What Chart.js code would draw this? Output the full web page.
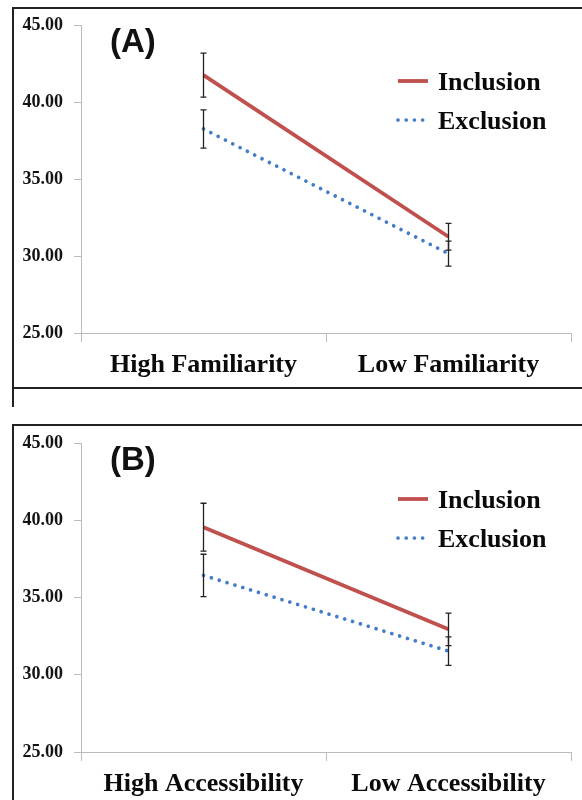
<!DOCTYPE html>
<html>
<head>
<meta charset="utf-8">
<script src="https://cdn.jsdelivr.net/npm/chart.js@4/dist/chart.umd.min.js"></script>
<style>
  body { margin: 0; background: #fff; width: 582px; height: 800px; overflow: hidden; position: relative; }
  canvas { position: absolute; left: 0; }
  #chartA { top: 0; }
  #chartB { top: 395px; }
  .frame { position: absolute; border-color: #222; border-style: solid; border-width: 0; }
  #frameA { left: 12px; top: 7px; width: 620px; height: 378px; border-top-width: 2px; border-left-width: 2px; border-bottom-width: 2px; }
  #frameA2 { left: 12px; top: 387px; width: 0; height: 20px; border-left-width: 2px; }
  #frameB { left: 12px; top: 424px; width: 620px; height: 400px; border-top-width: 2px; border-left-width: 2px; }
  .tag { position: absolute; left: 110px; font: bold 33px "Liberation Sans", Arial, sans-serif; line-height: 1; color: #111; }
</style>
</head>
<body>
<div class="frame" id="frameA"></div>
<div class="frame" id="frameA2"></div>
<div class="frame" id="frameB"></div>
<canvas id="chartA" width="582" height="395"></canvas>
<canvas id="chartB" width="582" height="405"></canvas>
<div class="tag" style="top:24px">(A)</div>
<div class="tag" style="top:442px">(B)</div>
<script>
const categoriesA = ['High Familiarity', 'Low Familiarity'];
const categoriesB = ['High Accessibility', 'Low Accessibility'];
const seriesNames = ['Inclusion', 'Exclusion'];
const yTicks = [25, 30, 35, 40, 45];

// panel A
const inclusionA = [41.75, 31.25];
const inclusionErrA = [1.43, 0.87];
const exclusionA = [38.25, 30.15];
const exclusionErrA = [1.24, 0.81];

// panel B
const inclusionB = [39.55, 32.94];
const inclusionErrB = [1.55, 1.05];
const exclusionB = [36.43, 31.53];
const exclusionErrB = [1.37, 0.92];

Chart.defaults.font.family = '"Liberation Serif", "Times New Roman", serif';
Chart.defaults.color = '#111';

const errorBars = {
  id: 'errorBars',
  afterDatasetsDraw(chart) {
    const { ctx, scales: { x, y } } = chart;
    ctx.save();
    ctx.strokeStyle = '#222';
    ctx.lineWidth = 1.3;
    chart.data.datasets.forEach(ds => {
      ds.data.forEach((v, j) => {
        const e = ds.errors[j];
        const px = x.getPixelForValue(j);
        const top = y.getPixelForValue(v + e);
        const bot = y.getPixelForValue(v - e);
        ctx.beginPath();
        ctx.moveTo(px, top); ctx.lineTo(px, bot);
        ctx.moveTo(px - 3, top); ctx.lineTo(px + 3, top);
        ctx.moveTo(px - 3, bot); ctx.lineTo(px + 3, bot);
        ctx.stroke();
      });
    });
    ctx.restore();
  }
};

const sideLegend = {
  id: 'sideLegend',
  afterDraw(chart) {
    const { ctx, chartArea } = chart;
    const x0 = chartArea.right - 175;
    chart.data.datasets.forEach((ds, i) => {
      const yy = chartArea.top + 56 + i * 39;
      ctx.save();
      ctx.strokeStyle = ds.borderColor;
      ctx.lineWidth = ds.borderWidth;
      ctx.setLineDash(ds.borderDash || []);
      ctx.lineCap = ds.borderCapStyle || 'butt';
      ctx.beginPath();
      ctx.moveTo(x0 + 2, yy);
      ctx.lineTo(x0 + 32, yy);
      ctx.stroke();
      ctx.setLineDash([]);
      ctx.fillStyle = '#0a0a0a';
      ctx.font = 'bold 26px "Liberation Serif"';
      ctx.textBaseline = 'alphabetic';
      ctx.fillText(ds.label, x0 + 42, yy + 8.6);
      ctx.restore();
    });
  }
};

function makeChart(id, labels, inc, incErr, exc, excErr, padTop, axisHeight) {
  new Chart(document.getElementById(id), {
    type: 'line',
    data: {
      labels: labels,
      datasets: [{
        label: seriesNames[0],
        data: inc,
        errors: incErr,
        borderColor: '#C0504D',
        borderWidth: 3.8,
        pointRadius: 0
      }, {
        label: seriesNames[1],
        data: exc,
        errors: excErr,
        borderColor: '#437CC8',
        borderWidth: 3.7,
        borderDash: [0.01, 8.2],
        borderCapStyle: 'round',
        pointRadius: 0
      }]
    },
    options: {
      responsive: false,
      animation: false,
      layout: { padding: { top: padTop, right: 11, left: 0, bottom: 0 } },
      plugins: { legend: { display: false }, tooltip: { enabled: false } },
      scales: {
        x: {
          offset: true,
          grid: { offset: true, drawOnChartArea: false, tickLength: 9, color: '#bbb' },
          border: { color: '#bbb', width: 1 },
          ticks: { font: { size: 26, weight: 'bold' }, color: '#0a0a0a', padding: 8, maxRotation: 0 },
          afterFit: s => { s.height = axisHeight; }
        },
        y: {
          min: 25,
          max: 45,
          grid: { drawOnChartArea: false, tickLength: 7, color: '#bbb' },
          border: { color: '#bbb', width: 1 },
          ticks: { font: { size: 18, weight: 'bold' }, color: '#141414', padding: 11,
                   callback: v => Number(v).toFixed(2) },
          afterBuildTicks: s => { s.ticks = yTicks.map(v => ({ value: v })); },
          afterFit: s => { s.width = 81; }
        }
      }
    },
    plugins: [errorBars, sideLegend]
  });
}

makeChart('chartA', categoriesA, inclusionA, inclusionErrA, exclusionA, exclusionErrA, 25, 62);
makeChart('chartB', categoriesB, inclusionB, inclusionErrB, exclusionB, exclusionErrB, 48, 48);
</script>
</body>
</html>
